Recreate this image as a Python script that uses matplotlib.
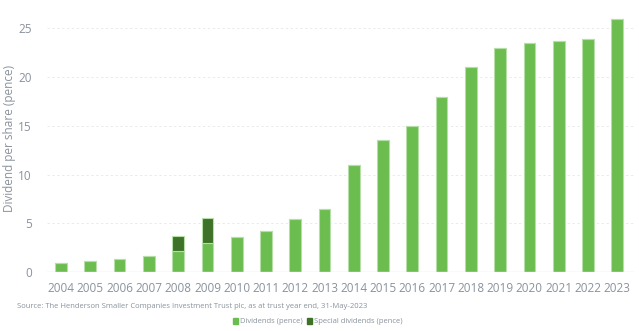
import numpy as np
import matplotlib.pyplot as plt
from matplotlib.patches import Rectangle

plt.rcParams['font.family'] = ['Open Sans', 'DejaVu Sans']

years = [str(y) for y in range(2004, 2024)]
dividends = [0.95, 1.1, 1.33, 1.65, 2.15, 2.97, 3.6, 4.18, 5.48, 6.47,
             10.97, 13.5, 15.0, 18.0, 21.0, 23.0, 23.45, 23.7, 23.95, 25.95]
special = [0, 0, 0, 0, 1.6, 2.6, 0, 0, 0, 0,
           0, 0, 0, 0, 0, 0, 0, 0, 0, 0]

green = '#6cbd4f'
dark = '#3e7228'
edge = '#b5dfa6'
grey = '#8a929c'

fig = plt.figure(figsize=(6.39, 3.31), dpi=100)
ax = fig.add_axes([0.0736, 0.178, 0.918, 0.81])

x = np.arange(len(years))
ax.bar(x, dividends, width=0.4, color=green, edgecolor=edge, linewidth=0.8, zorder=3)
ax.bar(x, special, width=0.4, bottom=dividends, color=dark, edgecolor=edge,
       linewidth=0.8, zorder=3)

ax.set_xlim(-0.48, 19.56)
ax.set_ylim(0, 27.5)
ax.set_yticks([0, 5, 10, 15, 20, 25])
ax.set_xticks(x)
ax.set_xticklabels(years)
ax.tick_params(axis='both', length=0, colors=grey, labelsize=8.5)
ax.tick_params(axis='y', pad=11)
ax.tick_params(axis='x', pad=7)
ax.yaxis.grid(True, color='#ebebeb', linestyle=(0, (2.5, 2.5)), linewidth=0.7, zorder=0)
for s in ax.spines.values():
    s.set_visible(False)
ax.axhline(0, color='#e3e3e3', linewidth=1, zorder=4)

ax.set_ylabel('Dividend per share (pence)', color=grey, fontsize=8.5)
ax.yaxis.set_label_coords(-0.053, 0.5)

fig.text(0.027, 0.075, 'Source: The Henderson Smaller Companies Investment Trust plc, as at trust year end, 31-May-2023',
         color=grey, fontsize=5.5, va='center')

# legend row
for xs, col, lab in [(0.364, green, 'Dividends (pence)'),
                     (0.480, dark, 'Special dividends (pence)')]:
    fig.patches.append(Rectangle((xs, 0.022), 0.008, 0.016, color=col,
                                 transform=fig.transFigure))
    fig.text(xs + 0.012, 0.030, lab, color=grey, fontsize=5.5, va='center')

fig.savefig('out.png', dpi=100, facecolor='white')
